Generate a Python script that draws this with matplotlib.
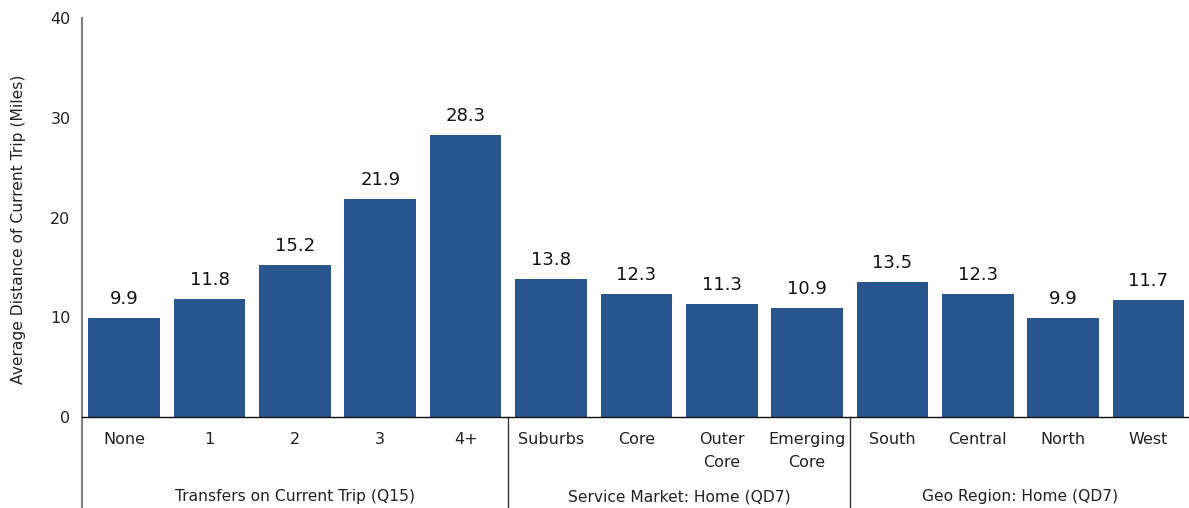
import matplotlib.pyplot as plt
import matplotlib.transforms as mtransforms

plt.rcParams["font.family"] = ["DejaVu Sans"]

# bar data
categories = ["None", "1", "2", "3", "4+",
              "Suburbs", "Core", "Outer\nCore", "Emerging\nCore",
              "South", "Central", "North", "West"]
values = [9.9, 11.8, 15.2, 21.9, 28.3, 13.8, 12.3, 11.3, 10.9, 13.5, 12.3, 9.9, 11.7]

# group labels and which bars they cover (start, end index)
group_names = ["Transfers on Current Trip (Q15)", "Service Market: Home (QD7)", "Geo Region: Home (QD7)"]
group_spans = [(0, 4), (5, 8), (9, 12)]

bar_color = "#2a5690"

fig = plt.figure(figsize=(11.89, 5.08), dpi=100)
ax = fig.add_axes([0.0686, 0.179, 0.9332, 0.7856])

x = range(len(categories))
ax.bar(x, values, width=0.84, color=bar_color, zorder=2)

for xi, v in zip(x, values):
    ax.text(xi, v + 1.0, f"{v:.1f}", ha="center", va="bottom", fontsize=13, color="#111111")

ax.set_xlim(-0.5, len(categories) - 0.5)
ax.set_ylim(0, 40)
ax.set_yticks([0, 10, 20, 30, 40])
ax.tick_params(axis="y", length=0, pad=8, labelsize=11.5, colors="#222222")
ax.set_xticks(list(x))
ax.set_xticklabels(categories, fontsize=11.5, color="#222222", linespacing=1.6)
ax.tick_params(axis="x", length=0, pad=11)

ax.set_ylabel("Average Distance of Current Trip (Miles)", fontsize=11.2, color="#222222")
ax.yaxis.set_label_coords(-0.0497, 0.47)

for side in ["top", "right", "left"]:
    ax.spines[side].set_visible(False)
ax.spines["bottom"].set_color("#111111")
ax.spines["bottom"].set_linewidth(1.0)

# left axis line runs down through the category area
trans = mtransforms.blended_transform_factory(ax.transData, ax.transAxes)
ax.plot([-0.5, -0.5], [-0.23, 1.0], transform=trans, color="#808080", lw=1.5, clip_on=False)

# group separators and group labels
for name, (s, e) in zip(group_names, group_spans):
    ax.text((s + e) / 2, -0.2, name, transform=trans, ha="center", va="center",
            fontsize=11.2, color="#222222")
    if s > 0:
        ax.plot([s - 0.5, s - 0.5], [-0.23, 0], transform=trans, color="#333333", lw=1.0, clip_on=False)

fig.savefig("out.png", dpi=100)
